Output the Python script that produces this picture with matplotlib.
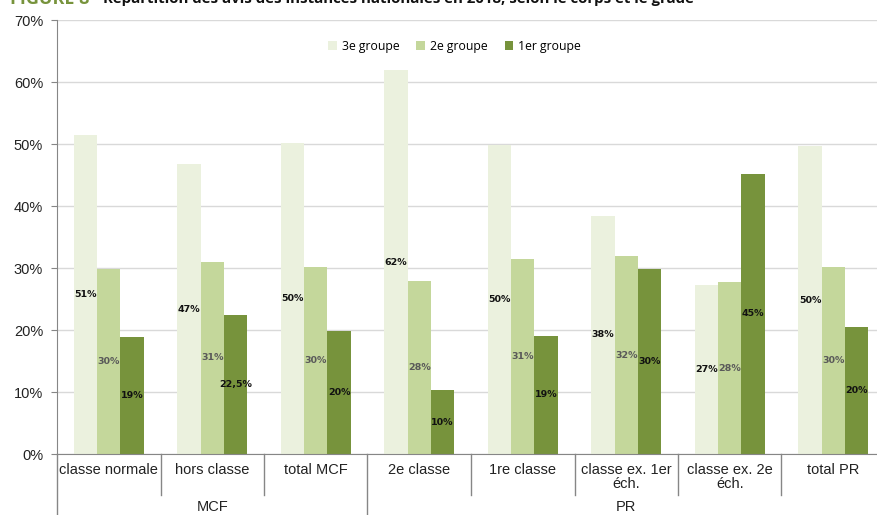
import numpy as np
import matplotlib.pyplot as plt
from matplotlib.lines import Line2D

categories = ["classe normale", "hors classe", "total MCF", "2e classe", "1re classe",
              "classe ex. 1er\néch.", "classe ex. 2e\néch.", "total PR"]
corps = ["MCF", "PR"]
corps_sizes = [3, 5]

series = ["3e groupe", "2e groupe", "1er groupe"]
g3 = [51.4, 46.7, 50.2, 61.9, 49.9, 38.4, 27.3, 49.6]
g2 = [29.9, 31.0, 30.1, 27.9, 31.4, 31.9, 27.7, 30.1]
g1 = [18.9, 22.5, 19.8, 10.3, 19.1, 29.9, 45.2, 20.5]
lab3 = ["51%", "47%", "50%", "62%", "50%", "38%", "27%", "50%"]
lab2 = ["30%", "31%", "30%", "28%", "31%", "32%", "28%", "30%"]
lab1 = ["19%", "22,5%", "20%", "10%", "19%", "30%", "45%", "20%"]

colors = ["#EBF1DE", "#C4D79B", "#77933C"]
label_colors = ["#111111", "#595959", "#111111"]

plt.rcParams['font.family'] = ['Liberation Sans', 'DejaVu Sans']

W, H = 878, 515
fig = plt.figure(figsize=(W / 100, H / 100), dpi=100)
ax_left, ax_right, ax_top, ax_bot = 57, 885, 20, 454
ax = fig.add_axes([ax_left / W, 1 - ax_bot / H, (ax_right - ax_left) / W, (ax_bot - ax_top) / H])

x = np.arange(len(categories))
bw = 0.225
for i, (vals, labs) in enumerate(zip([g3, g2, g1], [lab3, lab2, lab1])):
    xs = x + (i - 1) * bw
    ax.bar(xs, vals, bw, color=colors[i], label=series[i], zorder=2)
    for xi, v, t in zip(xs, vals, labs):
        ax.text(xi, v / 2, t, ha='center', va='center', fontsize=6.8, fontweight='bold',
                color=label_colors[i], family='DejaVu Sans', zorder=3)

ax.set_xlim(-0.5, len(categories) - 0.5)
ax.set_ylim(0, 70)
ax.set_yticks(range(0, 71, 10))
ax.set_yticklabels([f"{v}%" for v in range(0, 71, 10)], fontsize=10.5)
ax.yaxis.grid(True, color="#D9D9D9", linewidth=1, zorder=0)
ax.set_axisbelow(True)
ax.set_xticks([])
for s in ['top', 'right']:
    ax.spines[s].set_visible(False)
ax.spines['left'].set_color('#868686')
ax.spines['bottom'].set_color('#868686')
ax.tick_params(axis='y', colors='#868686', length=4, labelcolor='#222222', pad=6)

def fy(py):
    return 1 - py / H

# category labels and separators under the axis
for xi, c in enumerate(categories):
    ax.text(xi, -1.45, c, ha='center', va='top', fontsize=10.5, color='#222222', linespacing=1.0,
            transform=ax.transData, clip_on=False)

trans = ax.get_xaxis_transform()
bounds = np.cumsum([0] + corps_sizes)
for k in range(len(categories) + 1):
    xb = k - 0.5
    end = -61 / (ax_bot - ax_top) if k in bounds else -41 / (ax_bot - ax_top)
    ax.add_line(Line2D([xb, xb], [0, end], transform=trans, color='#868686', lw=1, clip_on=False))

for name, b0, n in zip(corps, bounds[:-1], corps_sizes):
    ax.text(b0 - 0.5 + n / 2, -53 / (ax_bot - ax_top), name, transform=trans, ha='center',
            va='center', fontsize=10.5, color='#222222', clip_on=False)

ax.legend(loc='upper center', bbox_to_anchor=(0.48, 0.98), ncol=3, frameon=False,
          handlelength=0.7, handleheight=0.7, handletextpad=0.4, columnspacing=1.4,
          prop={'family': ['Open Sans', 'DejaVu Sans'], 'size': 8.8})

# title, partly cut at the top like in the source
fig.text(10 / W, fy(-1), "FIGURE 8", color="#77933C", fontsize=13, fontweight='bold',
         family=['Open Sans', 'DejaVu Sans'], va='center')
fig.text(103 / W, fy(-1), "Répartition des avis des instances nationales en 2018, selon le corps et le grade",
         color="#111111", fontsize=10.8, fontweight='bold', family=['Open Sans', 'DejaVu Sans'], va='center')

fig.savefig("out.png", dpi=100)
